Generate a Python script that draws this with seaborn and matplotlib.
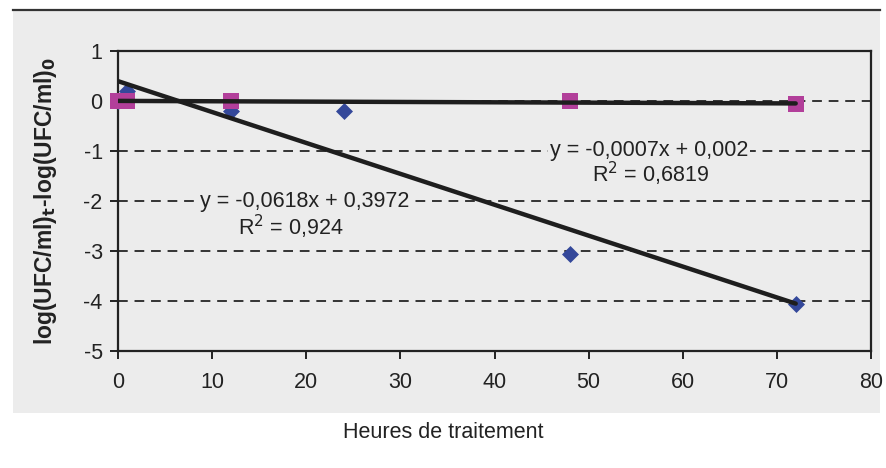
import matplotlib
matplotlib.use("Agg")
import matplotlib.pyplot as plt
import numpy as np
import pandas as pd
import seaborn as sns

# Survival measurements (hours of treatment vs log reduction)
hours_a = [0, 1, 12, 24, 48, 72]
logred_a = [0.0, 0.2, -0.2, -0.2, -3.05, -4.05]
hours_b = [0, 1, 12, 48, 72]
logred_b = [0.0, 0.0, 0.0, 0.0, -0.05]

# Linear trend lines (slope, intercept, R²)
fit_a = (-0.0618, 0.3972, "0,924")
fit_b = (-0.0007, 0.002, "0,6819")
fit_range = [0, 72]

x_ticks = [0, 10, 20, 30, 40, 50, 60, 70, 80]
y_ticks = [-5, -4, -3, -2, -1, 0, 1]

sns.set_theme(style="white")
plt.rcParams["font.family"] = ["Liberation Sans", "DejaVu Sans"]
plt.rcParams["axes.unicode_minus"] = False

bg = "#ececec"
ink = "#222222"
fig = plt.figure(figsize=(8.87, 4.68), dpi=100)
fig.patch.set_facecolor("white")

# grey panel behind the chart
back = fig.add_axes([13 / 887, 1 - 413 / 468, (880 - 13) / 887, (413 - 10) / 468], zorder=-10)
back.set_facecolor(bg)
back.set_xticks([])
back.set_yticks([])
for name, sp in back.spines.items():
    sp.set_visible(name == "top")
    sp.set_color("#333333")
    sp.set_linewidth(1.6)

ax = fig.add_axes([118 / 887, 1 - 351 / 468, (871 - 118) / 887, 300 / 468])
ax.set_facecolor(bg)

df_a = pd.DataFrame({"h": hours_a, "v": logred_a})
df_b = pd.DataFrame({"h": hours_b, "v": logred_b})
sns.scatterplot(data=df_a, x="h", y="v", marker="D", s=75, color="#34489a",
                edgecolor="#34489a", linewidth=0, ax=ax, zorder=3, clip_on=False)
sns.scatterplot(data=df_b, x="h", y="v", marker="s", s=130, color="#b23f9a",
                edgecolor="#b23f9a", linewidth=0, ax=ax, zorder=4, clip_on=False)

for slope, icpt, _ in (fit_a, fit_b):
    xs = np.array(fit_range, dtype=float)
    sns.lineplot(x=xs, y=slope * xs + icpt, color="#1e1e1e", lw=3.2, ax=ax, zorder=5)

for yv in [-4, -3, -2, -1, 0]:
    ax.axhline(yv, color="#333333", lw=1.4, ls=(0, (5, 3.5)), zorder=1)

ax.set_xlim(0, 80)
ax.set_ylim(-5, 1)
ax.set_xticks(x_ticks)
ax.set_yticks(y_ticks)
ax.tick_params(axis="both", direction="out", length=6, width=1.4, color=ink,
               labelsize=15.5, labelcolor=ink, pad=5, bottom=True, left=True)
ax.tick_params(axis="x", pad=9)
for sp in ax.spines.values():
    sp.set_color(ink)
    sp.set_linewidth(1.6)
    sp.set_visible(True)

box = dict(facecolor=bg, edgecolor="none", pad=1.5)
def eq_text(slope, icpt):
    def fmt(v):
        return f"{v:g}".replace(".", ",")
    sign = "+" if icpt >= 0 else "-"
    return f"y = {fmt(slope)}x {sign} {fmt(abs(icpt))}"

ax.text(19.8, -2.0, eq_text(fit_a[0], fit_a[1]), ha="center", va="center",
        fontsize=15.5, color=ink, bbox=box, zorder=6)
ax.text(18.4, -2.52, f"R$^2$ = {fit_a[2]}", ha="center", va="center",
        fontsize=15.5, color=ink, zorder=6)
ax.text(56.4, -0.99, eq_text(fit_b[0], fit_b[1]), ha="center", va="center",
        fontsize=15.5, color=ink, bbox=box, zorder=6)
ax.text(56.6, -1.45, f"R$^2$ = {fit_b[2]}", ha="center", va="center",
        fontsize=15.5, color=ink, zorder=6)

ax.set_xlabel("")
ax.set_ylabel(r"log(UFC/ml)$_\mathbf{t}$-log(UFC/ml)$_\mathbf{0}$", fontsize=16.5,
              fontweight="bold", color=ink)
ax.yaxis.set_label_coords(-0.078, 0.5)
fig.text(443 / 887, 1 - 432 / 468, "Heures de traitement", ha="center", va="center",
         fontsize=15.5, color=ink)

fig.savefig("out.png", dpi=100)
